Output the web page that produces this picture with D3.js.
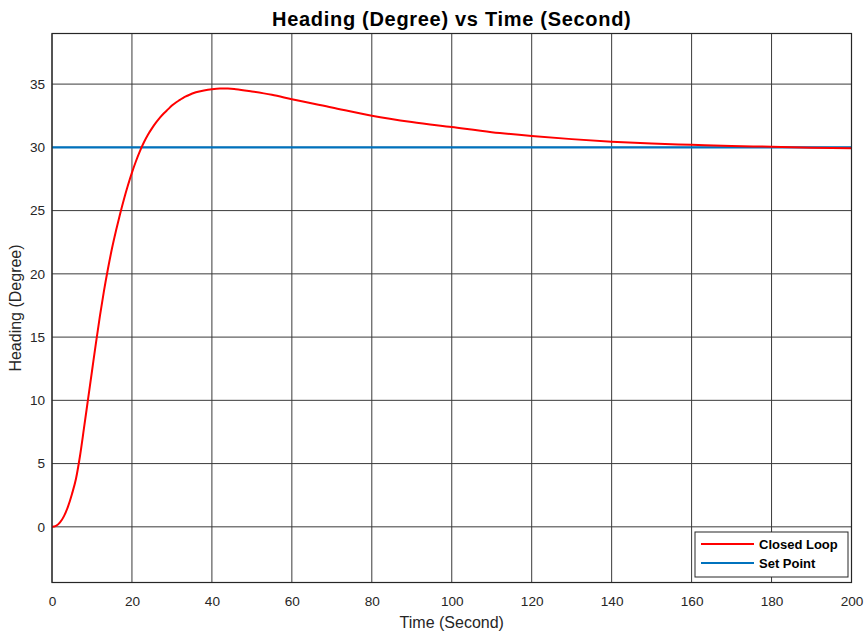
<!DOCTYPE html>
<html>
<head>
<meta charset="utf-8">
<script src="https://cdn.jsdelivr.net/npm/d3@7"></script>
<style>
  html, body { margin: 0; padding: 0; background: #fff; }
  svg { display: block; font-family: "Liberation Sans", Arial, Helvetica, sans-serif; }
</style>
</head>
<body>
<svg id="chart" width="867" height="633"></svg>
<script>
// Time samples (s) and heading response (deg)
const timeSec = [0,1,2,3,4,5,6,7,8,9,10,11,12,13,14,15,16,17,18,19,20,21,22,23,24,25,26,27,28,29,30,31,32,33,34,36,38,40,42,44,46,50,55,60,70,80,90,100,110,120,130,140,150,160,170,180,190,200];
const closedLoop = [0,0.08,0.35,0.85,1.6,2.6,3.8,5.6,7.8,10.05,12.3,14.55,16.7,18.65,20.4,22.0,23.4,24.7,25.9,27.0,28.0,28.9,29.7,30.4,31.0,31.5,31.95,32.35,32.7,33.0,33.3,33.55,33.75,33.95,34.1,34.35,34.5,34.6,34.65,34.65,34.6,34.42,34.15,33.8,33.15,32.5,32.0,31.6,31.2,30.9,30.65,30.45,30.3,30.2,30.1,30.05,29.97,29.92];
const setPoint = [30, 30];
const setPointTime = [0, 200];

const xTicks = [0,20,40,60,80,100,120,140,160,180,200];
const yTicks = [0,5,10,15,20,25,30,35];
const xDomain = [0, 200];
const yDomain = [-4.4, 39];

const seriesNames = ["Closed Loop", "Set Point"];
const seriesColors = ["#ff0000", "#0072bd"];

const svg = d3.select("#chart");
const plotL = 52, plotR = 851.5, plotT = 33.5, plotB = 582.5;

const x = d3.scaleLinear().domain(xDomain).range([plotL, plotR]);
const y = d3.scaleLinear().domain(yDomain).range([plotB, plotT]);

// grid
const grid = svg.append("g").attr("stroke", "#3a3a3a").attr("stroke-width", 1);
grid.selectAll(".gx").data(xTicks).join("line")
  .attr("x1", d => x(d)).attr("x2", d => x(d))
  .attr("y1", plotT).attr("y2", plotB);
grid.selectAll(".gy").data(yTicks).join("line")
  .attr("x1", plotL).attr("x2", plotR)
  .attr("y1", d => y(d)).attr("y2", d => y(d));

// axes (labels only; tick marks sit under the grid)
const xAxis = d3.axisBottom(x).tickValues(xTicks).tickSize(0).tickPadding(14);
const gx = svg.append("g").attr("transform", `translate(0,${plotB})`).call(xAxis);
gx.select(".domain").remove();
gx.selectAll("text").attr("fill", "#262626").style("font-size", "13.6px");

const yAxis = d3.axisLeft(y).tickValues(yTicks).tickSize(0).tickPadding(7);
const gy = svg.append("g").attr("transform", `translate(${plotL},0)`).call(yAxis);
gy.select(".domain").remove();
gy.selectAll("text").attr("fill", "#262626").style("font-size", "13.6px");

// lines
const line = d3.line().x(d => x(d[0])).y(d => y(d[1])).curve(d3.curveMonotoneX);
svg.append("clipPath").attr("id", "plotclip").append("rect")
  .attr("x", plotL).attr("y", plotT).attr("width", plotR - plotL).attr("height", plotB - plotT);

svg.append("path")
  .datum(setPointTime.map((t, i) => [t, setPoint[i]]))
  .attr("d", line).attr("fill", "none")
  .attr("stroke", seriesColors[1]).attr("stroke-width", 2.2)
  .attr("clip-path", "url(#plotclip)");

svg.append("path")
  .datum(timeSec.map((t, i) => [t, closedLoop[i]]))
  .attr("d", line).attr("fill", "none")
  .attr("stroke", seriesColors[0]).attr("stroke-width", 2)
  .attr("stroke-linejoin", "round")
  .attr("clip-path", "url(#plotclip)");

// frame
svg.append("rect").attr("x", plotL).attr("y", plotT)
  .attr("width", plotR - plotL).attr("height", plotB - plotT)
  .attr("fill", "none").attr("stroke", "#262626").attr("stroke-width", 1.2);

// title and axis labels
svg.append("text").attr("x", (plotL + plotR) / 2).attr("y", 25.5)
  .attr("text-anchor", "middle").attr("font-weight", "bold")
  .style("font-size", "20px").style("letter-spacing", "0.7px").attr("fill", "#000")
  .text("Heading (Degree) vs Time (Second)");

svg.append("text").attr("x", (plotL + plotR) / 2).attr("y", 628)
  .attr("text-anchor", "middle").style("font-size", "16px").attr("fill", "#262626")
  .text("Time (Second)");

svg.append("text")
  .attr("transform", `translate(21,${(plotT + plotB) / 2}) rotate(-90)`)
  .attr("text-anchor", "middle").style("font-size", "16px").attr("fill", "#262626")
  .text("Heading (Degree)");

// legend
const lg = svg.append("g");
lg.append("rect").attr("x", 695).attr("y", 532).attr("width", 153).attr("height", 45)
  .attr("fill", "#fff").attr("stroke", "#262626").attr("stroke-width", 1);
const rowsY = [544, 563];
seriesNames.forEach((name, i) => {
  lg.append("line").attr("x1", 701).attr("x2", 754)
    .attr("y1", rowsY[i]).attr("y2", rowsY[i])
    .attr("stroke", seriesColors[i]).attr("stroke-width", 2.2);
  lg.append("text").attr("x", 759).attr("y", rowsY[i] + 4.5)
    .attr("font-weight", "bold").style("font-size", "13px").attr("fill", "#000")
    .text(name);
});
</script>
</body>
</html>
